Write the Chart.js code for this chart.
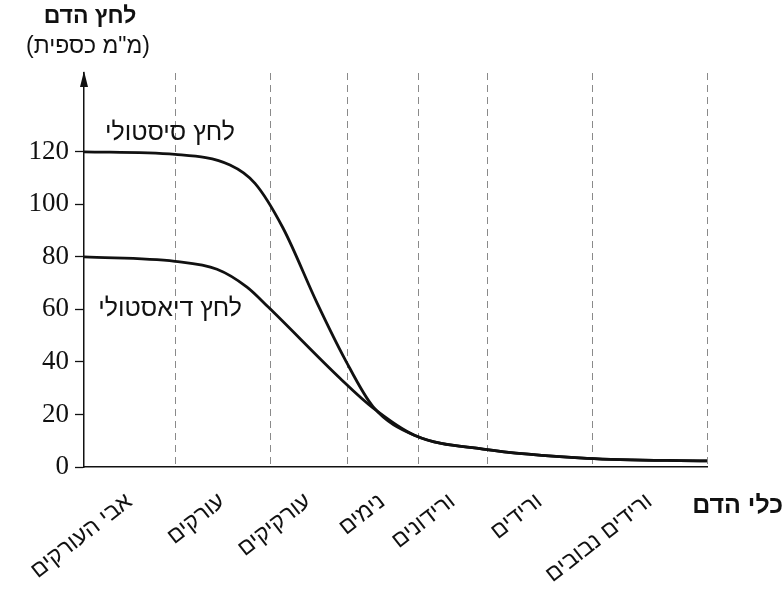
<!DOCTYPE html>
<html lang="he">
<head>
<meta charset="utf-8">
<script src="https://cdn.jsdelivr.net/npm/chart.js@4.4.1/dist/chart.umd.min.js"></script>
<style>
  html, body { margin: 0; padding: 0; background: #fff; }
  #wrap { width: 784px; height: 592px; }
</style>
</head>
<body>
<div id="wrap"><canvas id="bp" width="784" height="592"></canvas></div>
<script>
// vessel types along the circulation (left to right)
const vessels = ['אבי העורקים', 'עורקים', 'עורקיקים', 'נימים', 'ורידונים', 'ורידים', 'ורידים נבובים'];
// edges of each vessel section on the (schematic) x axis
const sectionEdges = [0, 91, 186, 263, 334, 403, 508, 623];
const yTicks = [0, 20, 40, 60, 80, 100, 120];

// systolic pressure (mmHg)
const systolicX = [0, 91, 146, 171, 199, 233, 261, 289, 331, 399, 503, 623];
const systolicY = [120, 119, 115, 108, 91, 62.5, 41, 23, 12, 6.8, 3.3, 2.3];

// diastolic pressure (mmHg)
const diastolicX = [0, 91, 133, 163, 184, 256, 289, 331, 399, 503, 623];
const diastolicY = [80, 78.3, 75.3, 68.5, 61, 33.8, 22.5, 12, 6.8, 3.3, 2.3];

const hebFont = '"Liberation Sans", "DejaVu Sans", sans-serif';

// section centres get the vessel names, edges get the dashed lines
const sectionCentres = vessels.map((v, i) => (sectionEdges[i] + sectionEdges[i + 1]) / 2);

function toPoints(xs, ys) {
    return xs.map((x, i) => ({ x: x, y: ys[i] }));
}

// arrow on the y axis, axis titles and curve names
const decorations = {
    id: 'decorations',
    afterDraw(chart) {
        const ctx = chart.ctx;
        const xs = chart.scales.x;
        const ys = chart.scales.y;
        const ax = xs.left;

        ctx.save();
        // arrow head
        ctx.fillStyle = '#111';
        ctx.beginPath();
        ctx.moveTo(ax, ys.top - 2);
        ctx.lineTo(ax - 4, ys.top + 14);
        ctx.lineTo(ax + 4, ys.top + 14);
        ctx.closePath();
        ctx.fill();

        ctx.direction = 'rtl';
        ctx.textAlign = 'center';
        ctx.textBaseline = 'middle';
        ctx.fillStyle = '#111';
        ctx.font = 'bold 23px ' + hebFont;
        ctx.fillText('לחץ הדם', ax + 6, 17);
        ctx.font = '23px ' + hebFont;
        ctx.fillText('(מ"מ כספית)', ax + 4, 47);

        ctx.textAlign = 'right';
        ctx.font = 'bold 25px ' + hebFont;
        ctx.fillText('כלי הדם', chart.width - 1, xs.top + 39);

        ctx.font = '25px ' + hebFont;
        ctx.fillText('לחץ סיסטולי', xs.getPixelForValue(151), ys.getPixelForValue(127));
        ctx.fillText('לחץ דיאסטולי', xs.getPixelForValue(158), ys.getPixelForValue(60));
        ctx.restore();
    }
};

new Chart(document.getElementById('bp'), {
    type: 'line',
    data: {
        datasets: [
            {
                label: 'לחץ סיסטולי',
                data: toPoints(systolicX, systolicY),
                borderColor: '#111',
                borderWidth: 2.8,
                pointRadius: 0,
                cubicInterpolationMode: 'monotone',
                fill: false,
            },
            {
                label: 'לחץ דיאסטולי',
                data: toPoints(diastolicX, diastolicY),
                borderColor: '#111',
                borderWidth: 2.8,
                pointRadius: 0,
                cubicInterpolationMode: 'monotone',
                fill: false,
            },
        ],
    },
    options: {
        responsive: false,
        animation: false,
        devicePixelRatio: 1,
        layout: {
            padding: { top: 73, right: 77, left: 0, bottom: 0 },
        },
        plugins: {
            legend: { display: false },
            tooltip: { enabled: false },
        },
        scales: {
            x: {
                type: 'linear',
                min: sectionEdges[0],
                max: sectionEdges[sectionEdges.length - 1],
                afterBuildTicks: (scale) => {
                    const vals = sectionEdges.concat(sectionCentres).sort((a, b) => a - b);
                    scale.ticks = vals.map((v) => ({ value: v }));
                },
                afterFit: (scale) => {
                    scale.height = 125;
                },
                grid: {
                    drawTicks: false,
                    lineWidth: 1,
                    color: (c) => {
                        const v = c.tick ? c.tick.value : null;
                        return v !== null && v > 0 && sectionEdges.includes(v) ? '#8a8a8a' : 'rgba(0,0,0,0)';
                    },
                },
                border: { display: true, color: '#111', width: 1.5, dash: [7, 5] },
                ticks: {
                    autoSkip: false,
                    minRotation: 38,
                    maxRotation: 38,
                    padding: 21,
                    color: '#111',
                    font: { family: hebFont, size: 23 },
                    callback: (value) => {
                        const i = sectionCentres.indexOf(value);
                        return i >= 0 ? vessels[i] : '';
                    },
                },
            },
            y: {
                type: 'linear',
                min: 0,
                max: 150,
                afterBuildTicks: (scale) => {
                    scale.ticks = yTicks.map((v) => ({ value: v }));
                },
                afterFit: (scale) => {
                    scale.width = 84;
                },
                grid: {
                    drawOnChartArea: false,
                    drawTicks: true,
                    tickLength: 9,
                    tickColor: '#111',
                    tickWidth: 1.3,
                },
                border: { display: true, color: '#111', width: 1.5 },
                ticks: {
                    padding: 6,
                    color: '#111',
                    font: { family: '"Liberation Serif", "DejaVu Serif", serif', size: 27 },
                },
            },
        },
    },
    plugins: [decorations],
});
</script>
</body>
</html>
